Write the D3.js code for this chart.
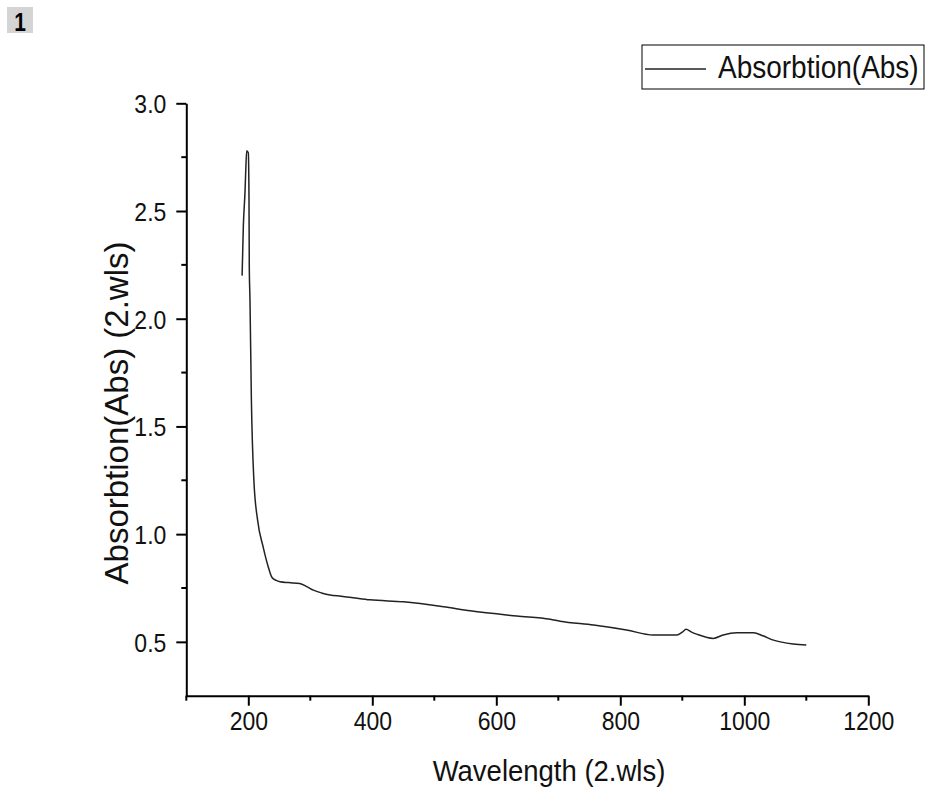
<!DOCTYPE html>
<html>
<head>
<meta charset="utf-8">
<script src="https://cdn.jsdelivr.net/npm/d3@7"></script>
<style>
  body { margin: 0; background: #fff; }
  svg { font-family: "Liberation Sans", Arial, sans-serif; }
</style>
</head>
<body>
<svg id="chart" width="925" height="790"></svg>
<script>
// wavelength (nm) and absorbance
const wavelengths = [190, 192, 194.7, 195.8, 197.4, 200, 201.1, 201.6, 202.7, 205, 209, 215, 224, 232, 238, 245, 251, 265, 283, 295, 305, 318, 332, 350, 369, 396, 450, 515, 558, 633, 687, 703, 757, 810, 853, 891, 900, 906, 915, 923, 950, 966, 988, 1015, 1030, 1047, 1079, 1100];
const absorbance  = [2.20, 2.43, 2.59, 2.68, 2.78, 2.77, 2.57, 2.24, 2.09, 1.62, 1.25, 1.065, 0.94, 0.85, 0.80, 0.785, 0.779, 0.775, 0.771, 0.755, 0.740, 0.727, 0.717, 0.712, 0.705, 0.695, 0.686, 0.663, 0.644, 0.620, 0.605, 0.596, 0.578, 0.555, 0.532, 0.532, 0.545, 0.558, 0.545, 0.536, 0.516, 0.532, 0.542, 0.542, 0.528, 0.508, 0.490, 0.485];

const xMajor = [200, 400, 600, 800, 1000, 1200];
const xMinor = [100, 300, 500, 700, 900, 1100];
const yMajor = [0.5, 1.0, 1.5, 2.0, 2.5, 3.0];
const yMinor = [0.75, 1.25, 1.75, 2.25, 2.75];

const seriesName = "Absorbtion(Abs)";
const xTitle = "Wavelength (2.wls)";
const yTitle = "Absorbtion(Abs) (2.wls)";

const data = wavelengths.map((w, i) => ({ w: w, a: absorbance[i] }));

const svg = d3.select("#chart");

const x = d3.scaleLinear().domain([100, 1200]).range([186.3, 868.3]);
const y = d3.scaleLinear().domain([0.25, 3.0]).range([695.7, 103.3]);

// panel label
svg.append("rect")
    .attr("x", 7).attr("y", 7)
    .attr("width", 26).attr("height", 26)
    .attr("fill", "#d4d4d4");
svg.append("text")
    .attr("transform", "translate(20,31) scale(1,1.2)")
    .attr("text-anchor", "middle")
    .attr("font-weight", "bold")
    .attr("font-size", 21)
    .text("1");

// x axis
const xAxis = svg.append("g")
    .attr("transform", `translate(0,${y(0.25)})`)
    .call(d3.axisBottom(x).tickValues(xMajor).tickSize(10).tickSizeOuter(0).tickFormat(d3.format("d")));
xAxis.selectAll(".tick text")
    .attr("y", 0).attr("dy", null)
    .attr("transform", "translate(0,34) scale(1,1.15)");
xAxis.append("g").selectAll("line")
    .data(xMinor)
    .join("line")
    .attr("x1", d => x(d)).attr("x2", d => x(d))
    .attr("y1", 0).attr("y2", 5)
    .attr("stroke", "#000").attr("stroke-width", 2);

// y axis
const yAxis = svg.append("g")
    .attr("transform", `translate(${x(100)},0)`)
    .call(d3.axisLeft(y).tickValues(yMajor).tickSize(10).tickPadding(10).tickSizeOuter(0).tickFormat(d3.format(".1f")));
yAxis.selectAll(".tick text")
    .attr("dy", "0.36em")
    .attr("transform", "scale(1,1.15)");
yAxis.append("g").selectAll("line")
    .data(yMinor)
    .join("line")
    .attr("x1", 0).attr("x2", -5)
    .attr("y1", d => y(d)).attr("y2", d => y(d))
    .attr("stroke", "#000").attr("stroke-width", 2);

svg.selectAll(".domain").attr("stroke", "#000").attr("stroke-width", 2);
svg.selectAll(".tick line").attr("stroke", "#000").attr("stroke-width", 2);
svg.selectAll(".tick text")
    .attr("font-family", "'Liberation Sans', Arial, sans-serif")
    .attr("font-size", 23)
    .attr("fill", "#111");

// axis titles
svg.append("text")
    .attr("transform", "translate(549,781) scale(1,1.1)")
    .attr("text-anchor", "middle")
    .attr("font-size", 27.5)
    .attr("fill", "#111")
    .text(xTitle);

svg.append("text")
    .attr("transform", "translate(128,413) rotate(-90)")
    .attr("text-anchor", "middle")
    .attr("font-size", 33)
    .attr("fill", "#111")
    .text(yTitle);

// spectrum
const line = d3.line()
    .x(d => x(d.w))
    .y(d => y(d.a))
    .curve(d3.curveMonotoneX);

svg.append("path")
    .datum(data)
    .attr("fill", "none")
    .attr("stroke", "#222")
    .attr("stroke-width", 1.5)
    .attr("d", line);

// legend
const legend = svg.append("g");
legend.append("rect")
    .attr("x", 642).attr("y", 45)
    .attr("width", 282).attr("height", 44)
    .attr("fill", "#fff")
    .attr("stroke", "#000")
    .attr("stroke-width", 1);
legend.append("line")
    .attr("x1", 645).attr("x2", 706)
    .attr("y1", 69).attr("y2", 69)
    .attr("stroke", "#222")
    .attr("stroke-width", 1.5);
legend.append("text")
    .attr("transform", "translate(718,78) scale(1,1.1)")
    .attr("font-size", 28)
    .attr("fill", "#111")
    .text(seriesName);
</script>
</body>
</html>
